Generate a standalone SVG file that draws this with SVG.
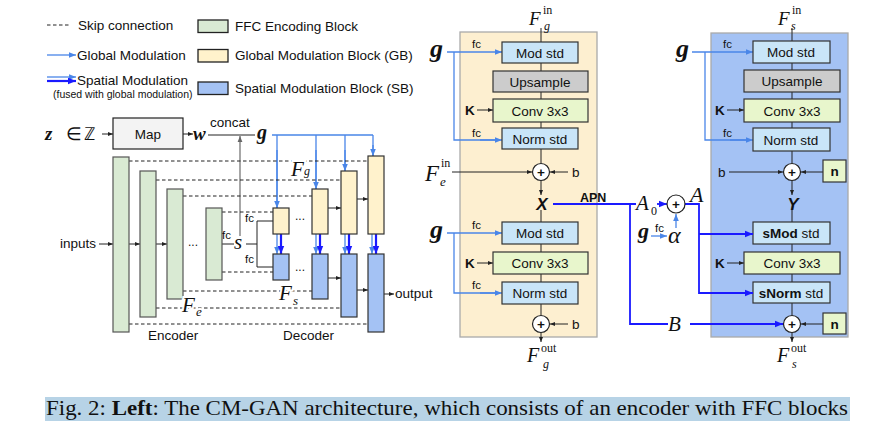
<svg xmlns="http://www.w3.org/2000/svg" width="879" height="425" viewBox="0 0 879 425">
<defs>
<marker id="ak" viewBox="0 0 10 10" refX="10" refY="5" markerWidth="5" markerHeight="5" orient="auto" markerUnits="userSpaceOnUse"><path d="M0,1 L10,5 L0,9 z" fill="#222"/></marker>
<marker id="ag" viewBox="0 0 10 10" refX="10" refY="5" markerWidth="6" markerHeight="6" orient="auto" markerUnits="userSpaceOnUse"><path d="M0,1 L10,5 L0,9 z" fill="#666"/></marker>
<marker id="al" viewBox="0 0 10 10" refX="10" refY="5" markerWidth="7" markerHeight="7" orient="auto" markerUnits="userSpaceOnUse"><path d="M0,1 L10,5 L0,9 z" fill="#4a86e8"/></marker>
<marker id="ab" viewBox="0 0 10 10" refX="10" refY="5" markerWidth="8" markerHeight="8" orient="auto" markerUnits="userSpaceOnUse"><path d="M0,1 L10,5 L0,9 z" fill="#1a1aff"/></marker>
</defs>
<style>
.sans{font-family:"Liberation Sans",Arial,sans-serif;fill:#111}
.lbl{font-family:"Liberation Sans",Arial,sans-serif;font-size:13.5px;fill:#111}
.box{font-family:"Liberation Sans",Arial,sans-serif;font-size:13.5px;fill:#111;text-anchor:middle}
.fc{font-family:"Liberation Sans",Arial,sans-serif;font-size:11.5px;fill:#111}
.m{font-family:"Liberation Serif","Times New Roman",serif;font-style:italic;fill:#111}
.mb{font-family:"Liberation Serif","Times New Roman",serif;font-style:italic;font-weight:bold;fill:#111}
.up{font-family:"Liberation Serif","Times New Roman",serif;fill:#111}
.halo{stroke:#fff;stroke-width:4;paint-order:stroke}
.enc{fill:#d9ead3;stroke:#555;stroke-width:1.2}
.gb{fill:#fff2cc;stroke:#333;stroke-width:1.2}
.sb{fill:#a4c2f4;stroke:#333;stroke-width:1.2}
.mod{fill:#c9e5f8;stroke:#333;stroke-width:1.2}
.ups{fill:#cccccc;stroke:#333;stroke-width:1.2}
.conv{fill:#e8f6cc;stroke:#333;stroke-width:1.2}
.skip{stroke:#222;stroke-width:1;stroke-dasharray:3.5,2.5;fill:none}
.k{stroke:#222;stroke-width:1;fill:none}
.lb{stroke:#4a86e8;stroke-width:1.3;fill:none}
.db{stroke:#1a1aff;stroke-width:1.8;fill:none}
.plus{fill:#fff;stroke:#222;stroke-width:1.2}
</style>
<rect width="879" height="425" fill="#fff"/>

<!-- Legend -->
<g id="legend">
<line x1="47" y1="25" x2="71" y2="25" class="skip"/>
<text x="78" y="30" class="lbl">Skip connection</text>
<line x1="47" y1="55" x2="76" y2="55" class="lb" marker-end="url(#al)"/>
<text x="77" y="60" class="lbl">Global Modulation</text>
<line x1="47" y1="77" x2="76" y2="77" class="lb" marker-end="url(#al)"/>
<line x1="47" y1="81" x2="76" y2="81" stroke="#1a1aff" stroke-width="2.2" marker-end="url(#ab)"/>
<text x="77" y="85" class="lbl">Spatial Modulation</text>
<text x="53" y="98" class="sans" font-size="10.5">(fused with global modulation)</text>
<rect x="198" y="20" width="30" height="12.5" fill="#d9ead3" stroke="#222" stroke-width="1.3"/>
<text x="235" y="31" class="lbl">FFC Encoding Block</text>
<rect x="198" y="49.5" width="30" height="12.5" fill="#fff2cc" stroke="#222" stroke-width="1.3"/>
<text x="235" y="60" class="lbl">Global Modulation Block (GB)</text>
<rect x="198" y="82" width="30" height="12.5" fill="#a4c2f4" stroke="#222" stroke-width="1.3"/>
<text x="235" y="92.5" class="lbl">Spatial Modulation Block (SB)</text>
</g>

<!-- Left architecture connectors -->
<g id="left-connectors">
<line x1="102" y1="134" x2="113" y2="134" class="k" marker-end="url(#ak)"/>
<line x1="183" y1="134" x2="193" y2="134" class="k" marker-end="url(#ak)"/>
<line x1="208" y1="135" x2="255" y2="135" class="k"/>
<line x1="240" y1="236" x2="240" y2="136" stroke="#777" stroke-width="1.3" marker-end="url(#ag)"/>
<path d="M272,135 H373 M277,135 V208 M316,135 V189 M345,135 V171 M373,135 V156" class="lb"/>
<line x1="277" y1="150" x2="277" y2="208" class="lb" marker-end="url(#al)"/>
<line x1="316" y1="150" x2="316" y2="189" class="lb" marker-end="url(#al)"/>
<line x1="345" y1="150" x2="345" y2="171" class="lb" marker-end="url(#al)"/>
<line x1="373" y1="145" x2="373" y2="156" class="lb" marker-end="url(#al)"/>
<path d="M129,161 H368 M156,180 H341 M183,196 H312 M222,212 H273 M222,272 H273 M183,291 H312 M156,308 H341 M129,324 H368" class="skip"/>
<line x1="99" y1="244" x2="113" y2="244" class="k" marker-end="url(#ak)"/>
<line x1="129" y1="244" x2="140" y2="244" class="k" marker-end="url(#ak)"/>
<line x1="156" y1="244" x2="167" y2="244" class="k" marker-end="url(#ak)"/>
<path d="M222,244 H234 M246,244 H257 M257,221 V267 M257,221 H273 M257,267 H273" class="k"/>
<line x1="328" y1="208" x2="341" y2="208" class="k" marker-end="url(#ak)"/>
<line x1="357" y1="199" x2="368" y2="199" class="k" marker-end="url(#ak)"/>
<line x1="328" y1="278" x2="341" y2="278" class="k" marker-end="url(#ak)"/>
<line x1="357" y1="290" x2="368" y2="290" class="k" marker-end="url(#ak)"/>
<line x1="384" y1="294" x2="394" y2="294" class="k" marker-end="url(#ak)"/>
<g>
<line x1="277" y1="234" x2="277" y2="254" class="lb" marker-end="url(#al)"/>
<line x1="281" y1="234" x2="281" y2="254" stroke="#1a1aff" stroke-width="2.2" marker-end="url(#ab)"/>
<line x1="316" y1="234" x2="316" y2="254" class="lb" marker-end="url(#al)"/>
<line x1="320" y1="234" x2="320" y2="254" stroke="#1a1aff" stroke-width="2.2" marker-end="url(#ab)"/>
<line x1="345" y1="234" x2="345" y2="254" class="lb" marker-end="url(#al)"/>
<line x1="349" y1="234" x2="349" y2="254" stroke="#1a1aff" stroke-width="2.2" marker-end="url(#ab)"/>
<line x1="372" y1="234" x2="372" y2="254" class="lb" marker-end="url(#al)"/>
<line x1="376" y1="234" x2="376" y2="254" stroke="#1a1aff" stroke-width="2.2" marker-end="url(#ab)"/>
</g>
</g>

<!-- Left architecture nodes -->
<g id="z-input"><text x="45" y="140" class="mb" font-size="19">z</text><text x="66" y="140" class="up" font-size="18" font-family="DejaVu Serif,serif">∈</text><text x="84" y="140" class="up" font-size="18" font-family="DejaVu Serif,serif">ℤ</text></g>
<g id="map"><rect x="113" y="118" width="70" height="31" fill="#f3f3f3" stroke="#222" stroke-width="1.2"/><text x="148" y="139" class="box">Map</text></g>
<g id="w"><text x="193" y="140" class="mb" font-size="19">w</text><text x="210" y="127" class="lbl" font-size="13">concat</text></g>
<g id="g-left"><text x="257" y="139" class="mb" font-size="20">g</text></g>
<g id="inputs"><text x="60" y="248" class="lbl" font-size="13">inputs</text></g>
<g id="enc1"><rect x="113" y="157" width="16" height="175" class="enc"/></g>
<g id="enc2"><rect x="140" y="171" width="16" height="146" class="enc"/></g>
<g id="enc3"><rect x="167" y="189" width="16" height="110" class="enc"/></g>
<g id="enc4"><rect x="206" y="208" width="16" height="72" class="enc"/></g>
<text x="188" y="246" class="sans" font-size="12">...</text>
<g id="s-node"><text x="234" y="249" class="m" font-size="21">s</text>
<text x="222" y="239" class="fc">fc</text><text x="245" y="222" class="fc">fc</text><text x="245" y="263" class="fc">fc</text></g>
<g id="dec-gb1"><rect x="273" y="208" width="16" height="26" class="gb"/></g>
<g id="dec-gb2"><rect x="312" y="189" width="16" height="45" class="gb"/></g>
<g id="dec-gb3"><rect x="341" y="171" width="16" height="63" class="gb"/></g>
<g id="dec-gb4"><rect x="368" y="156" width="16" height="78" class="gb"/></g>
<g id="dec-sb1"><rect x="273" y="254" width="16" height="26" class="sb"/></g>
<g id="dec-sb2"><rect x="312" y="254" width="16" height="45" class="sb"/></g>
<g id="dec-sb3"><rect x="341" y="254" width="16" height="63" class="sb"/></g>
<g id="dec-sb4"><rect x="368" y="254" width="16" height="78" class="sb"/></g>
<text x="295" y="220" class="sans" font-size="12">...</text>
<text x="295" y="271" class="sans" font-size="12">...</text>
<g id="Fg-left"><text x="291" y="176" class="m halo" font-size="21">F</text><text x="304" y="175" class="m" font-size="12">g</text></g>
<g id="Fs-left"><text x="279" y="300" class="m halo" font-size="21">F</text><text x="293" y="305" class="m halo" font-size="13">s</text></g>
<g id="Fe-left"><text x="182" y="312" class="m halo" font-size="21">F</text><text x="196" y="316" class="m halo" font-size="13">e</text></g>
<g id="output"><text x="395" y="298" class="lbl" font-size="13">output</text></g>
<text x="148" y="340" class="lbl" font-size="13">Encoder</text>
<text x="283" y="340" class="lbl" font-size="13">Decoder</text>

<!-- GB panel -->
<g id="gb-panel"><rect x="460" y="32" width="137" height="305" fill="#fdefd0" stroke="#aaa" stroke-width="1.3"/></g>
<g id="gb-connectors">
<line x1="541" y1="28" x2="541" y2="163" class="k"/>
<line x1="541" y1="181" x2="541" y2="195" class="k" marker-end="url(#ak)"/>
<line x1="541" y1="210" x2="541" y2="315" class="k"/>
<line x1="541" y1="333" x2="541" y2="342" class="k" marker-end="url(#ak)"/>
<path d="M454,52 V140 H500" class="lb"/>
<line x1="447" y1="52" x2="502" y2="52" class="lb" marker-end="url(#al)"/>
<line x1="480" y1="140" x2="502" y2="140" class="lb" marker-end="url(#al)"/>
<path d="M454,233 V293 H500" class="lb"/>
<line x1="447" y1="233" x2="502" y2="233" class="lb" marker-end="url(#al)"/>
<line x1="480" y1="293" x2="502" y2="293" class="lb" marker-end="url(#al)"/>
<line x1="477" y1="110" x2="493" y2="110" class="k" marker-end="url(#ak)"/>
<line x1="477" y1="263" x2="493" y2="263" class="k" marker-end="url(#ak)"/>
<line x1="452" y1="172" x2="532" y2="172" class="k" marker-end="url(#ak)"/>
<line x1="568" y1="172" x2="550" y2="172" class="k" marker-end="url(#ak)"/>
<line x1="568" y1="324" x2="550" y2="324" class="k" marker-end="url(#ak)"/>
</g>
<g id="gb-Fin"><text x="529" y="25" class="m" font-size="19">F</text><text x="543" y="14" class="up" font-size="12">in</text><text x="544" y="30" class="m" font-size="12">g</text></g>
<g id="gb-g1"><text x="430" y="57" class="mb" font-size="26">g</text><text x="472" y="48" class="fc">fc</text><text x="472" y="137" class="fc">fc</text></g>
<g id="gb-modstd"><rect x="502" y="42" width="76" height="21" class="mod"/><text x="540" y="57.5" class="box">Mod std</text></g>
<g id="gb-upsample"><rect x="493" y="71" width="95" height="21" class="ups"/><text x="540" y="86.5" class="box">Upsample</text></g>
<g id="gb-conv1"><rect x="493" y="99" width="95" height="23" class="conv"/><text x="540" y="115.5" class="box">Conv 3x3</text><text x="465" y="115" class="sans" font-size="13.5" font-weight="bold">K</text></g>
<g id="gb-normstd"><rect x="502" y="128" width="76" height="21" class="mod"/><text x="540" y="143.5" class="box">Norm std</text></g>
<g id="gb-plus1"><circle cx="541" cy="172" r="8.5" class="plus"/><text x="541" y="176.5" class="box" font-weight="bold" font-size="12">+</text><text x="572" y="177" class="lbl">b</text></g>
<g id="gb-Fein"><text x="425" y="181" class="m" font-size="23">F</text><text x="441" y="167" class="up" font-size="12">in</text><text x="440" y="186" class="m" font-size="13">e</text></g>
<g id="gb-X"><text x="542" y="210" class="sans" font-size="17" font-weight="bold" font-style="italic" text-anchor="middle">X</text></g>
<g id="gb-g2"><text x="430" y="238" class="mb" font-size="26">g</text><text x="472" y="229" class="fc">fc</text><text x="472" y="289" class="fc">fc</text></g>
<g id="gb-modstd2"><rect x="502" y="222" width="76" height="22" class="mod"/><text x="540" y="238" class="box">Mod std</text></g>
<g id="gb-conv2"><rect x="493" y="252" width="95" height="22" class="conv"/><text x="540" y="268" class="box">Conv 3x3</text><text x="465" y="268" class="sans" font-size="13.5" font-weight="bold">K</text></g>
<g id="gb-normstd2"><rect x="502" y="282" width="76" height="22" class="mod"/><text x="540" y="298" class="box">Norm std</text></g>
<g id="gb-plus2"><circle cx="541" cy="324" r="8.5" class="plus"/><text x="541" y="328.5" class="box" font-weight="bold" font-size="12">+</text><text x="572" y="329" class="lbl">b</text></g>
<g id="gb-Fout"><text x="527" y="362" class="m" font-size="20">F</text><text x="541" y="352" class="up" font-size="12">out</text><text x="543" y="368" class="m" font-size="12">g</text></g>

<!-- SB panel -->
<g id="sb-panel"><rect x="711" y="33" width="137" height="304" fill="#a4c2f4" stroke="#aaa" stroke-width="1.3"/></g>
<g id="sb-connectors">
<line x1="792" y1="28" x2="792" y2="163" class="k"/>
<line x1="792" y1="181" x2="792" y2="195" class="k" marker-end="url(#ak)"/>
<line x1="792" y1="210" x2="792" y2="315" class="k"/>
<line x1="792" y1="333" x2="792" y2="342" class="k" marker-end="url(#ak)"/>
<path d="M705,52 V140 H751" class="lb"/>
<line x1="692" y1="52" x2="753" y2="52" class="lb" marker-end="url(#al)"/>
<line x1="730" y1="140" x2="753" y2="140" class="lb" marker-end="url(#al)"/>
<line x1="727" y1="110" x2="744" y2="110" class="k" marker-end="url(#ak)"/>
<line x1="727" y1="263" x2="744" y2="263" class="k" marker-end="url(#ak)"/>
<line x1="729" y1="172" x2="783" y2="172" class="k" marker-end="url(#ak)"/>
<line x1="823" y1="172" x2="801" y2="172" class="k" marker-end="url(#ak)"/>
<line x1="823" y1="324" x2="801" y2="324" class="k" marker-end="url(#ak)"/>
</g>
<g id="sb-Fin"><text x="778" y="25" class="m" font-size="19">F</text><text x="792" y="14" class="up" font-size="12">in</text><text x="791" y="30" class="m" font-size="12">s</text></g>
<g id="sb-g"><text x="676" y="57" class="mb" font-size="26">g</text><text x="723" y="48" class="fc">fc</text><text x="723" y="137" class="fc">fc</text></g>
<g id="sb-modstd"><rect x="753" y="41" width="77" height="22" class="mod"/><text x="791" y="57" class="box">Mod std</text></g>
<g id="sb-upsample"><rect x="744" y="70" width="96" height="22" class="ups"/><text x="792" y="86" class="box">Upsample</text></g>
<g id="sb-conv1"><rect x="744" y="99" width="96" height="23" class="conv"/><text x="792" y="115.5" class="box">Conv 3x3</text><text x="715" y="115" class="sans" font-size="13.5" font-weight="bold">K</text></g>
<g id="sb-normstd"><rect x="753" y="128" width="77" height="23" class="mod"/><text x="791" y="144.5" class="box">Norm std</text></g>
<g id="sb-plus1"><circle cx="792" cy="172" r="8.5" class="plus"/><text x="792" y="176.5" class="box" font-weight="bold" font-size="12">+</text><text x="718" y="177" class="lbl">b</text></g>
<g id="sb-n1"><rect x="823" y="160" width="23" height="22" class="conv"/><text x="834.5" y="176" class="box" font-weight="bold">n</text></g>
<g id="sb-Y"><text x="793" y="210" class="sans" font-size="17" font-weight="bold" font-style="italic" text-anchor="middle">Y</text></g>
<g id="sb-smod"><rect x="753" y="222" width="77" height="22" class="mod"/><text x="791" y="238" class="box"><tspan font-weight="bold">sMod</tspan> std</text></g>
<g id="sb-conv2"><rect x="744" y="252" width="96" height="22" class="conv"/><text x="792" y="268" class="box">Conv 3x3</text><text x="715" y="268" class="sans" font-size="13.5" font-weight="bold">K</text></g>
<g id="sb-snorm"><rect x="753" y="282" width="77" height="21" class="mod"/><text x="791" y="297.5" class="box"><tspan font-weight="bold">sNorm</tspan> std</text></g>
<g id="sb-plus2"><circle cx="792" cy="324" r="8.5" class="plus"/><text x="792" y="328.5" class="box" font-weight="bold" font-size="12">+</text></g>
<g id="sb-n2"><rect x="823" y="313" width="23" height="21" class="conv"/><text x="834.5" y="328.5" class="box" font-weight="bold">n</text></g>
<g id="sb-Fout"><text x="777" y="362" class="m" font-size="20">F</text><text x="791" y="352" class="up" font-size="12">out</text><text x="792" y="368" class="m" font-size="12">s</text></g>

<!-- APN -->
<g id="apn-connectors">
<path d="M553,204 H636 M630,204 V324 H668 M690,324 H781" class="db"/>
<line x1="700" y1="324" x2="783" y2="324" class="db" marker-end="url(#ab)"/>
<line x1="657" y1="204" x2="667" y2="204" class="db" marker-end="url(#ab)"/>
<path d="M685,204 H699 V293 H751 M699,234 H751" class="db"/>
<line x1="720" y1="234" x2="753" y2="234" class="db" marker-end="url(#ab)"/>
<line x1="720" y1="293" x2="753" y2="293" class="db" marker-end="url(#ab)"/>
<line x1="651" y1="236" x2="667" y2="236" class="lb" marker-end="url(#al)"/>
<line x1="676" y1="228" x2="676" y2="214" class="lb" marker-end="url(#al)"/>
</g>
<g id="apn-label"><text x="580" y="202" class="sans" font-size="12.5" font-weight="bold">APN</text></g>
<g id="A0"><text x="636" y="210" class="m" font-size="21">A</text><text x="651" y="215" class="up" font-size="12">0</text></g>
<g id="apn-plus"><circle cx="676" cy="204" r="9" class="plus"/><text x="676" y="208.5" class="box" font-weight="bold" font-size="12">+</text></g>
<g id="A"><text x="690" y="202" class="m" font-size="22">A</text></g>
<g id="alpha"><text x="638" y="238" class="mb" font-size="22">g</text><text x="655" y="232" class="fc" fill="#9c5a1c">fc</text><text x="668" y="243" class="m" font-size="24">α</text></g>
<g id="B"><text x="668" y="331" class="m" font-size="21">B</text></g>

<!-- Caption -->
<g id="caption">
<rect x="45" y="397" width="805" height="24" fill="#b7d3e6"/>
<text x="46" y="415" font-family="'Liberation Serif','Times New Roman',serif" font-size="21" fill="#111" textLength="802" lengthAdjust="spacingAndGlyphs">Fig. 2: <tspan font-weight="bold">Left</tspan>: The CM-GAN architecture, which consists of an encoder with FFC blocks</text>
</g>
</svg>
